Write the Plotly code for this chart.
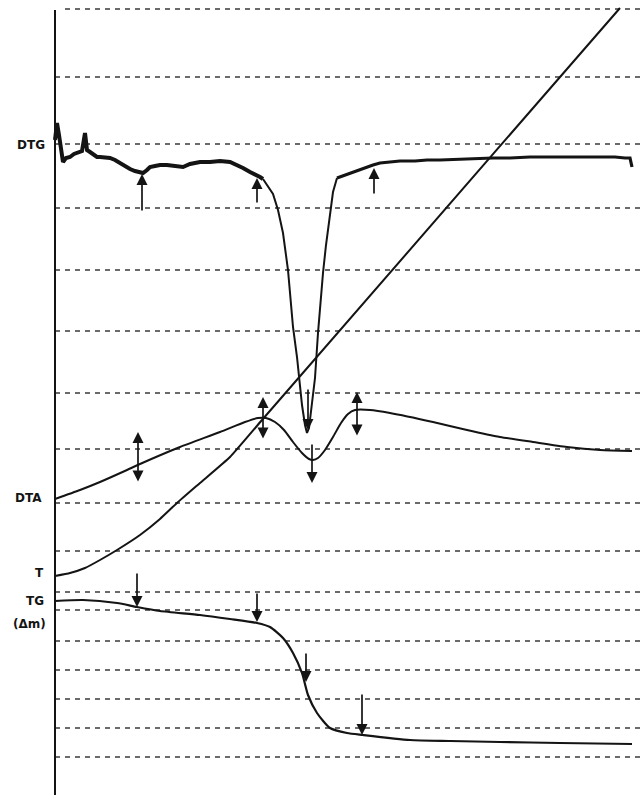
import plotly.graph_objects as go

# ---- data (chart units: horizontal = time/abscissa, vertical = recorder position) ----
grid_y = [9, 77, 144, 208, 270, 331, 393, 449, 503, 551, 592, 610, 641, 670, 699, 728, 757]
grid_x0 = [65, 55, 55, 55, 55, 55, 55, 55, 55, 55, 55, 55, 55, 55, 55, 55, 55]

dtg_left_x = [55, 57, 59, 61, 63, 66, 70, 74, 78, 82, 85, 87, 90, 94, 97, 100, 105, 110, 115, 120,
              125, 130, 135, 140, 143, 147, 150, 155, 160, 167, 175, 183, 190, 200, 210, 220, 230,
              237, 243, 250, 255, 260, 263]
dtg_left_y = [140, 123, 135, 150, 162, 158, 157, 154, 153, 151, 133, 150, 152, 155, 157, 157, 157,
              158, 160, 163, 167, 169, 171, 172, 173, 170, 167, 166, 165, 165, 166, 167, 164, 162,
              162, 161, 162, 165, 168, 172, 174, 177, 179]
dtg_peak_x = [263, 268, 273, 278, 283, 288, 293, 297, 299, 302, 305, 307, 309, 311, 313, 315, 318,
              320, 323, 326, 330, 333, 337]
dtg_peak_y = [179, 186, 194, 210, 233, 270, 327, 357, 378, 405, 425, 433, 428, 410, 392, 378, 333,
              305, 273, 245, 213, 192, 178]
dtg_right_x = [337, 345, 353, 363, 373, 380, 390, 400, 415, 427, 440, 460, 480, 493, 510, 530, 550,
               560, 580, 600, 615, 625, 630, 632]
dtg_right_y = [178, 175, 172, 168, 165, 163, 162, 161, 161, 160, 160, 159, 158, 158, 158, 157, 157,
               157, 157, 157, 157, 158, 158, 167]

dta_x = [55, 80, 100, 127, 140, 180, 220, 245, 258, 266, 275, 284, 293, 302, 309, 313, 318, 325,
         333, 341, 348, 355, 370, 390, 433, 467, 500, 533, 567, 600, 632]
dta_y = [499, 490, 482, 470, 464, 447, 432, 422, 418, 418, 422, 430, 442, 453, 459, 460, 458, 450,
         437, 423, 414, 410, 410, 413, 422, 430, 437, 442, 447, 450, 451]

t_x = [55, 70, 85, 100, 117, 140, 160, 177, 200, 230, 262, 620]
t_y = [576, 573, 568, 560, 550, 535, 519, 503, 483, 457, 420, 8]

tg_x = [55, 83, 117, 137, 160, 200, 230, 257, 270, 283, 293, 302, 308, 317, 330, 347, 363, 410,
        450, 500, 560, 632]
tg_y = [601, 600, 603, 607, 611, 615, 619, 623, 627, 638, 653, 673, 695, 713, 728, 733, 735, 740,
        741, 742, 743, 744]

# arrows: x position, tail y, head y, both-ended?
arrow_x = [142, 257, 374, 308, 138, 263, 312, 357, 137, 257, 306, 362]
arrow_tail = [212, 204, 195, 388, 483, 440, 443, 437, 572, 592, 652, 693]
arrow_head = [174, 178, 168, 430, 432, 397, 483, 392, 607, 622, 682, 735]
arrow_both = [False, False, False, False, True, True, False, True, False, False, False, False]

labels = ["DTG", "DTA", "T", "TG", "(Δm)"]
label_x = [31, 28, 39, 35, 29]
label_y = [145, 498, 573, 601, 624]

INK = "#141414"

fig = go.Figure()

for gx0, gy in zip(grid_x0, grid_y):
    fig.add_trace(go.Scatter(x=[gx0, 643], y=[gy, gy], mode="lines",
                             line=dict(color="#3a3a3a", width=1.6, dash="5px,5px"),
                             hoverinfo="skip", showlegend=False))

# vertical axis line
fig.add_trace(go.Scatter(x=[55, 55], y=[10, 795], mode="lines",
                         line=dict(color=INK, width=2), showlegend=False))

fig.add_trace(go.Scatter(x=dtg_left_x, y=dtg_left_y, mode="lines",
                         line=dict(color=INK, width=4), showlegend=False))
fig.add_trace(go.Scatter(x=dtg_peak_x, y=dtg_peak_y, mode="lines",
                         line=dict(color=INK, width=2), showlegend=False))
fig.add_trace(go.Scatter(x=dtg_right_x, y=dtg_right_y, mode="lines",
                         line=dict(color=INK, width=3.2), showlegend=False))
fig.add_trace(go.Scatter(x=dta_x, y=dta_y, mode="lines", line=dict(color=INK, width=2, shape="spline", smoothing=0.6),
                         showlegend=False))
fig.add_trace(go.Scatter(x=t_x, y=t_y, mode="lines", line=dict(color=INK, width=2, shape="spline", smoothing=0.4),
                         showlegend=False))
fig.add_trace(go.Scatter(x=tg_x, y=tg_y, mode="lines", line=dict(color=INK, width=2.2, shape="spline", smoothing=0.6),
                         showlegend=False))

for ax_, t, h, both in zip(arrow_x, arrow_tail, arrow_head, arrow_both):
    fig.add_annotation(x=ax_, y=h, ax=ax_, ay=t, xref="x", yref="y", axref="x", ayref="y",
                       text="", showarrow=True, arrowhead=2, arrowsize=1.3, arrowwidth=1.7,
                       arrowcolor=INK, standoff=0, startstandoff=0,
                       arrowside="end+start" if both else "end",
                       startarrowhead=2, startarrowsize=1.3)

for txt, lx, ly in zip(labels, label_x, label_y):
    fig.add_annotation(x=lx, y=ly, xref="x", yref="y", text=txt, showarrow=False,
                       font=dict(family="DejaVu Sans", size=12, color=INK, weight="bold"))

fig.update_layout(width=643, height=795, margin=dict(l=0, r=0, t=0, b=0),
                  paper_bgcolor="white", plot_bgcolor="white", showlegend=False)
fig.update_xaxes(range=[0, 643], visible=False, fixedrange=True)
fig.update_yaxes(range=[795, 0], visible=False, fixedrange=True)

fig.write_html("out.html", config={"displayModeBar": False},
               post_script="document.body.style.margin='0px';document.body.style.overflow='hidden';")
